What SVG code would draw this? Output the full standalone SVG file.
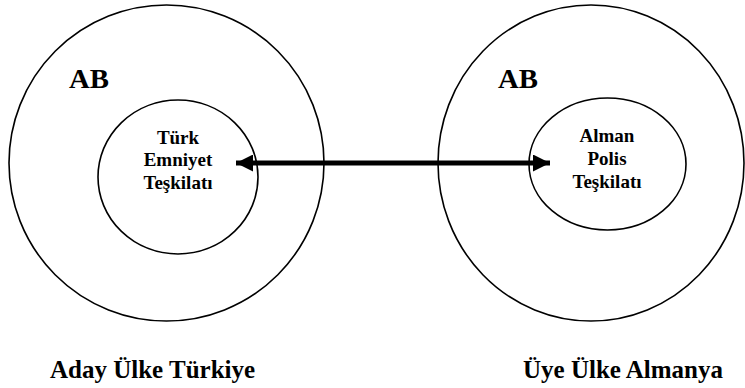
<svg xmlns="http://www.w3.org/2000/svg" width="745" height="388" viewBox="0 0 745 388">
<style>
.ring{fill:none;stroke:#000;stroke-width:1.6}
.t{font-family:'Liberation Serif','Times New Roman',Times,serif;font-weight:bold;fill:#000}
.ab{font-size:27px}
.in{font-size:19px;text-anchor:middle}
.cap{font-size:25px}
</style>
<defs>
<marker id="ah" viewBox="0 0 10 10" refX="10" refY="5" markerWidth="3.4" markerHeight="3.4" orient="auto-start-reverse" markerUnits="strokeWidth">
<path d="M0,0 L10,5 L0,10 Z" fill="#000"/>
</marker>
</defs>
<g id="eu-left">
<ellipse class="ring" cx="166.5" cy="163" rx="157.5" ry="158"/>
<text class="t ab" font-family="Liberation Serif, serif" x="69" y="88" textLength="40" lengthAdjust="spacingAndGlyphs">AB</text>
</g>
<g id="eu-right">
<ellipse class="ring" cx="591" cy="163" rx="153" ry="158"/>
<text class="t ab" font-family="Liberation Serif, serif" x="498" y="88" textLength="40" lengthAdjust="spacingAndGlyphs">AB</text>
</g>
<g id="turk">
<ellipse class="ring" cx="178" cy="177" rx="80" ry="77"/>
<text class="t in" font-family="Liberation Serif, serif" x="178" y="144">Türk</text>
<text class="t in" font-family="Liberation Serif, serif" x="178" y="166">Emniyet</text>
<text class="t in" font-family="Liberation Serif, serif" x="178" y="189">Teşkilatı</text>
</g>
<g id="alman">
<ellipse class="ring" cx="607.5" cy="164" rx="78.5" ry="66"/>
<text class="t in" font-family="Liberation Serif, serif" x="607" y="142">Alman</text>
<text class="t in" font-family="Liberation Serif, serif" x="607" y="165">Polis</text>
<text class="t in" font-family="Liberation Serif, serif" x="607" y="188">Teşkilatı</text>
</g>
<g id="caption-left">
<text class="t cap" font-family="Liberation Serif, serif" x="50" y="378">Aday Ülke Türkiye</text>
</g>
<g id="caption-right">
<text class="t cap" font-family="Liberation Serif, serif" x="523" y="378">Üye Ülke Almanya</text>
</g>
<g id="connectors">
<line x1="236" y1="163" x2="550" y2="163" stroke="#000" stroke-width="5" marker-start="url(#ah)" marker-end="url(#ah)"/>
</g>
</svg>
